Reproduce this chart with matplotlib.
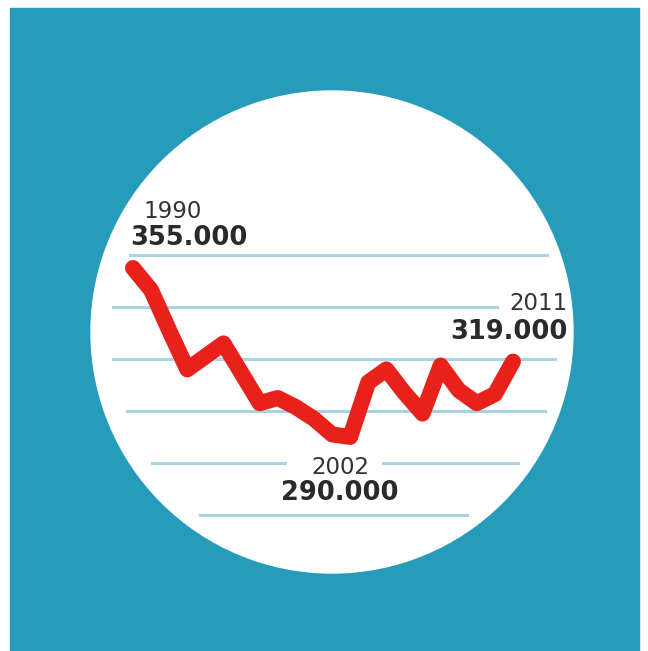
import matplotlib.pyplot as plt
from matplotlib.patches import Rectangle, Circle

# data (thousands)
years = list(range(1990, 2012))
values = [355, 346.5, 331, 316, 321, 326, 314.5, 303, 305, 301.5, 297,
          291, 290, 311, 316, 307, 299, 317.5, 308, 303, 306.5, 319]
grid_levels = [360, 340, 320, 300, 280, 260]
labelled_years = [1990, 2002, 2011]

W, H = 648, 651
fig = plt.figure(figsize=(W / 100, H / 100), dpi=100)
fig.patch.set_facecolor('white')

# background in pixel coords
bg = fig.add_axes([0, 0, 1, 1])
bg.set_xlim(0, W)
bg.set_ylim(H, 0)
bg.axis('off')
bg.add_patch(Rectangle((10, 8), 629, 650, color='#279bba', zorder=0))
bg.add_patch(Circle((332, 332), 241, color='white', zorder=1))

# data axes spanning the whole figure
ax = fig.add_axes([0, 0, 1, 1])
ax.patch.set_alpha(0)
ax.set_xlim(1990 - 133 / 18.095, 1990 + 515 / 18.095)
ax.set_ylim(355 - 383 / 2.6, 355 + 268 / 2.6)
ax.axis('off')

# gridline extents in figure pixels (they stop short of the circle / labels)
spans = {360: [(130, 547)], 340: [(113, 497)], 320: [(113, 555)],
         300: [(127, 545)], 280: [(152, 285), (383, 518)], 260: [(200, 467)]}
for lvl in grid_levels:
    for a, b in spans[lvl]:
        ax.axhline(lvl, xmin=a / W, xmax=b / W, color='#a9d2e2', lw=2.2, zorder=2)

ax.plot(years, values, color='#e8211b', lw=11.5, solid_capstyle='round',
        solid_joinstyle='round', zorder=3)

txt = '#2a2a2a'
def fmt(v):
    return f"{int(round(v * 1000)):,}".replace(',', '.')

pos = {1990: (130, 'left'), 2002: (340, 'center'), 2011: (568, 'right')}
ypos = {1990: (212, 238), 2002: (467, 493), 2011: (304, 332)}
for yr in labelled_years:
    x, ha = pos[yr]
    y1, y2 = ypos[yr]
    v = values[years.index(yr)]
    bg.text(x + (13 if ha == 'left' else 0), y1, str(yr), ha=ha, va='center',
            fontsize=16.5, color='#333333', fontweight='normal', zorder=5)
    bg.text(x, y2, fmt(v), ha=ha, va='center', fontsize=18.5, color=txt,
            fontweight='bold', zorder=5)

plt.savefig('out.png', dpi=100)
